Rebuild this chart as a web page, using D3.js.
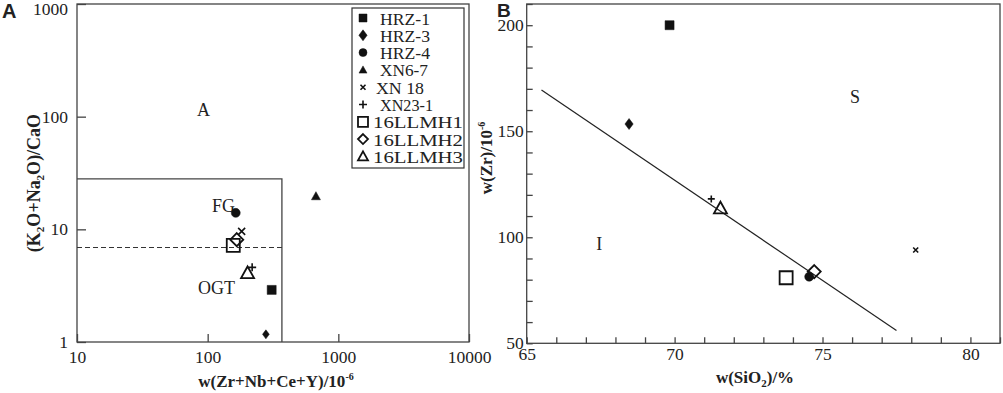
<!DOCTYPE html>
<html>
<head>
<meta charset="utf-8">
<script src="https://cdn.jsdelivr.net/npm/d3@7"></script>
<style>
  body { margin: 0; background: #fff; }
  svg text { font-family: "Liberation Serif", "Times New Roman", serif; fill: #222; }
</style>
</head>
<body>
<svg id="chart" width="1003" height="393"></svg>
<script>
// Sample names (shared by both panels)
const samples = ['HRZ-1', 'HRZ-3', 'HRZ-4', 'XN6-7', 'XN 18', 'XN23-1', '16LLMH1', '16LLMH2', '16LLMH3'];

// Panel A: (Zr+Nb+Ce+Y) vs (K2O+Na2O)/CaO
const aZrSum = [309, 279, 164, 674, 182, 219, 157, 167, 202];
const aAlkCa = [2.9, 1.17, 14.0, 19.7, 9.6, 4.6, 7.2, 8.1, 4.1];
const aXTicks = [10, 100, 1000, 10000];
const aYTicks = [1, 10, 100, 1000];
// FG/OGT box corner and dashed divider
const aBox = { x: 370, y: 28 };
const aDash = 6.9;

// Panel B: SiO2 vs Zr (XN6-7 not plotted)
const bSamples = ['HRZ-1', 'HRZ-3', 'HRZ-4', 'XN 18', 'XN23-1', '16LLMH1', '16LLMH2', '16LLMH3'];
const bSiO2 = [69.83, 68.46, 74.55, 78.15, 71.24, 73.77, 74.72, 71.55];
const bZr = [200, 153.4, 81.4, 94, 118.1, 80.9, 83.8, 113.7];
const bXTicks = [65, 70, 75, 80];
const bYTicks = [50, 100, 150, 200];
const bLine = [[65.5, 169.5], [77.5, 56]];

const svg = d3.select('#chart');

// marker shape per sample
const style = {
    'HRZ-1':   { shape: 'square', fill: true },
    'HRZ-3':   { shape: 'diamond', fill: true },
    'HRZ-4':   { shape: 'circle', fill: true },
    'XN6-7':   { shape: 'triangle', fill: true },
    'XN 18':   { shape: 'x', fill: false },
    'XN23-1':  { shape: 'plus', fill: false },
    '16LLMH1': { shape: 'square', fill: false },
    '16LLMH2': { shape: 'diamond', fill: false },
    '16LLMH3': { shape: 'triangle', fill: false }
};
function markerPath(shape, s, filled) {
    const h = s / 2;
    switch (shape) {
        case 'x': return `M${-h},${-h}L${h},${h}M${-h},${h}L${h},${-h}`;
        case 'plus': return `M${-h},0L${h},0M0,${-h}L0,${h}`;
        case 'square': return `M${-h},${-h}H${h}V${h}H${-h}Z`;
        case 'diamond': {
            const w = filled ? h * 0.75 : h;
            return `M0,${-h}L${w},0L0,${h}L${-w},0Z`;
        }
        case 'triangle': return `M0,${-h}L${h},${h * 0.8}L${-h},${h * 0.8}Z`;
        case 'circle': return d3.arc()({ innerRadius: 0, outerRadius: h, startAngle: 0, endAngle: 2 * Math.PI });
    }
}
function drawMarker(g, name, x, y, size) {
    const st = style[name];
    const thin = st.shape === 'x' || st.shape === 'plus';
    g.append('path')
        .attr('d', markerPath(st.shape, size, st.fill))
        .attr('transform', `translate(${x},${y})`)
        .attr('fill', st.fill ? '#111' : '#fff')
        .attr('fill-opacity', st.fill ? 1 : 0)
        .attr('stroke', '#111')
        .attr('stroke-width', st.fill ? 0.5 : (thin ? 1.6 : 1.8));
}
function sizeA(name) {
    const st = style[name];
    if (st.shape === 'x') return 7;
    if (st.shape === 'plus') return 8;
    if (st.shape === 'diamond' && st.fill) return 9;
    return st.fill ? 9 : 13;
}
function sizeB(name) {
    const st = style[name];
    if (st.shape === 'x') return 5;
    if (st.shape === 'plus') return 7;
    if (st.shape === 'diamond' && st.fill) return 11;
    return st.fill ? 9 : 13;
}
function sizeLeg(name) {
    const st = style[name];
    if (st.shape === 'x') return 5;
    if (st.shape === 'plus') return 8;
    if (st.shape === 'diamond' && st.fill) return 11;
    return st.fill ? 8 : 10;
}

const tickText = g => g.selectAll('text').attr('font-size', 17.5)
    .attr('font-family', 'Liberation Serif').attr('fill', '#222');
const tickLine = g => g.selectAll('line').attr('stroke', '#444').attr('stroke-width', 1.3);

// ---------- Panel A ----------
const ax = d3.scaleLog().domain([10, 10000]).range([77, 469]);
const ay = d3.scaleLog().domain([1, 1000]).range([342, 4]);
const gA = svg.append('g');

gA.append('rect').attr('x', 77).attr('y', 4).attr('width', 392).attr('height', 338)
    .attr('fill', 'none').attr('stroke', '#444').attr('stroke-width', 1.3);

gA.append('g').attr('transform', 'translate(77,0)')
    .call(d3.axisLeft(ay).tickValues(aYTicks).tickSize(-9).tickFormat(d3.format('d')).tickPadding(9))
    .call(g => g.select('.domain').remove())
    .call(tickLine).call(tickText)
    .call(g => g.selectAll('.tick').filter(d => d === 1000).select('text').attr('dy', '0.6em'));
gA.append('g').attr('transform', 'translate(0,342)')
    .call(d3.axisBottom(ax).tickValues(aXTicks).tickSize(-8).tickFormat(d3.format('d')).tickPadding(9))
    .call(g => g.select('.domain').remove())
    .call(tickLine).call(tickText);

// FG/OGT box
gA.append('path')
    .attr('d', `M${ax(10)},${ay(aBox.y)}H${ax(aBox.x)}V${ay(1)}`)
    .attr('fill', 'none').attr('stroke', '#444').attr('stroke-width', 1.3);
gA.append('line')
    .attr('x1', ax(10)).attr('x2', ax(aBox.x)).attr('y1', ay(aDash)).attr('y2', ay(aDash))
    .attr('stroke', '#333').attr('stroke-width', 1.2).attr('stroke-dasharray', '5,3');

// region labels
[['A', 93, 115], ['FG', 132, 16], ['OGT', 117, 3]].forEach(d => {
    gA.append('text').attr('x', ax(d[1])).attr('y', ay(d[2])).attr('text-anchor', 'middle')
        .attr('dominant-baseline', 'central').attr('font-size', 18).text(d[0]);
});

// points
samples.forEach((s, i) => drawMarker(gA, s, ax(aZrSum[i]), ay(aAlkCa[i]), sizeA(s)));

// legend
const leg = gA.append('g');
leg.append('rect').attr('x', 352).attr('y', 8).attr('width', 112).attr('height', 160)
    .attr('fill', '#fff').attr('stroke', '#333').attr('stroke-width', 1.2);
samples.forEach((s, i) => {
    const y = 18 + i * 17.3;
    drawMarker(leg, s, 363, y, sizeLeg(s));
    const x0 = s.startsWith('16') ? 373 : (s === 'XN 18' ? 376 : 380);
    const len = s.startsWith('16') ? 90 : (s === 'XN23-1' ? 53 : (s.startsWith('HRZ') ? 50 : 48));
    leg.append('text').attr('x', x0).attr('y', y + 1)
        .attr('dominant-baseline', 'central').attr('font-size', 16)
        .attr('textLength', len).attr('lengthAdjust', 'spacingAndGlyphs').text(s);
});

// axis titles
gA.append('text').attr('transform', 'translate(40,183) rotate(-90)').attr('text-anchor', 'middle')
    .attr('font-size', 18).attr('font-weight', 'bold')
    .html('(K<tspan font-size="11" dy="4">2</tspan><tspan dy="-4">O+Na</tspan><tspan font-size="11" dy="4">2</tspan><tspan dy="-4">O)/CaO</tspan>');
gA.append('text').attr('x', 276).attr('y', 387).attr('text-anchor', 'middle')
    .attr('font-size', 17).attr('font-weight', 'bold')
    .html('w(Zr+Nb+Ce+Y)/10<tspan font-size="10" dy="-7">-6</tspan>');

svg.append('text').attr('x', 2).attr('y', 18)
    .attr('font-weight', 'bold').attr('font-size', 20).style('font-family', 'Liberation Sans, Arial, sans-serif').text('A');

// ---------- Panel B ----------
const bx = d3.scaleLinear().domain([65, 81]).range([526.7, 1000]);
const by = d3.scaleLinear().domain([50, 210]).range([343.3, 4]);
const gB = svg.append('g');

gB.append('rect').attr('x', 526.7).attr('y', 4).attr('width', 473.3).attr('height', 339.3)
    .attr('fill', 'none').attr('stroke', '#444').attr('stroke-width', 1.3);

gB.append('g').attr('transform', 'translate(526.7,0)')
    .call(d3.axisLeft(by).ticks(16).tickSize(-6).tickFormat(d => bYTicks.includes(d) ? d : '').tickPadding(3))
    .call(g => g.select('.domain').remove())
    .call(tickLine).call(tickText);
gB.append('g').attr('transform', 'translate(0,343.3)')
    .call(d3.axisBottom(bx).ticks(16).tickSize(-6).tickFormat(d => bXTicks.includes(d) ? d : '').tickPadding(4))
    .call(g => g.select('.domain').remove())
    .call(tickLine).call(tickText);

gB.append('line')
    .attr('x1', bx(bLine[0][0])).attr('y1', by(bLine[0][1]))
    .attr('x2', bx(bLine[1][0])).attr('y2', by(bLine[1][1]))
    .attr('stroke', '#222').attr('stroke-width', 1.2);

[['S', 76.1, 166], ['I', 67.45, 97]].forEach(d => {
    gB.append('text').attr('x', bx(d[1])).attr('y', by(d[2])).attr('text-anchor', 'middle')
        .attr('dominant-baseline', 'central').attr('font-size', 18).text(d[0]);
});

bSamples.forEach((s, i) => drawMarker(gB, s, bx(bSiO2[i]), by(bZr[i]), sizeB(s)));

gB.append('text').attr('transform', 'translate(492,158) rotate(-90)').attr('text-anchor', 'middle')
    .attr('font-size', 17).attr('font-weight', 'bold')
    .html('w(Zr)/10<tspan font-size="10" dy="-7">-6</tspan>');
gB.append('text').attr('x', 755).attr('y', 383).attr('text-anchor', 'middle')
    .attr('font-size', 17).attr('font-weight', 'bold')
    .html('w(SiO<tspan font-size="11" dy="4">2</tspan><tspan dy="-4">)/%</tspan>');

svg.append('text').attr('x', 497).attr('y', 17)
    .attr('font-weight', 'bold').attr('font-size', 19).style('font-family', 'Liberation Sans, Arial, sans-serif').text('B');
</script>
</body>
</html>
